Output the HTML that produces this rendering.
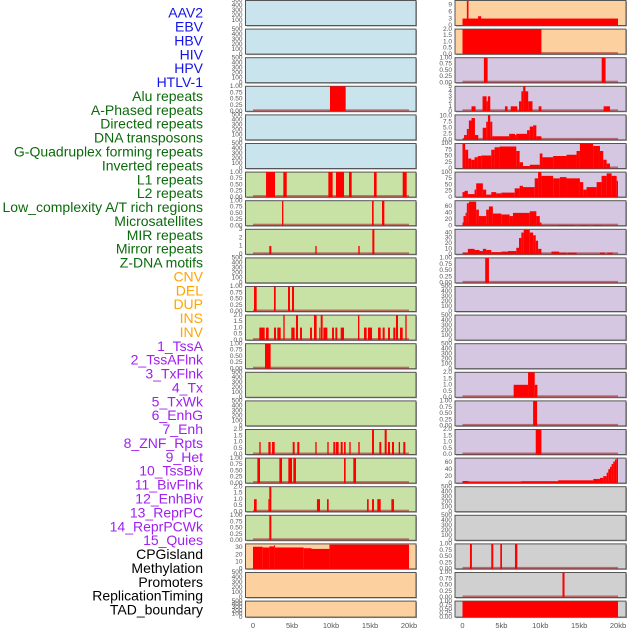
<!DOCTYPE html>
<html><head><meta charset="utf-8"><style>
html,body{margin:0;padding:0;background:#fff;}
svg{display:block;font-family:"Liberation Sans",sans-serif;}
</style></head><body>
<svg id="chart" width="630" height="630" viewBox="0 0 630 630"></svg>
<script>
const labels = ["AAV2","EBV","HBV","HIV","HPV","HTLV-1","Alu repeats","A-Phased repeats","Directed repeats","DNA transposons","G-Quadruplex forming repeats","Inverted repeats","L1 repeats","L2 repeats","Low_complexity A/T rich regions","Microsatellites","MIR repeats","Mirror repeats","Z-DNA motifs","CNV","DEL","DUP","INS","INV","1_TssA","2_TssAFlnk","3_TxFlnk","4_Tx","5_TxWk","6_EnhG","7_Enh","8_ZNF_Rpts","9_Het","10_TssBiv","11_BivFlnk","12_EnhBiv","13_ReprPC","14_ReprPCWk","15_Quies","CPGisland","Methylation","Promoters","ReplicationTiming","TAD_boundary"];
const labelGroups = ["virus","virus","virus","virus","virus","virus","rep","rep","rep","rep","rep","rep","rep","rep","rep","rep","rep","rep","rep","sv","sv","sv","sv","sv","hmm","hmm","hmm","hmm","hmm","hmm","hmm","hmm","hmm","hmm","hmm","hmm","hmm","hmm","hmm","oth","oth","oth","oth","oth"];
const xTicks = [0,5,10,15,20];
const xTickLabels = ["0","5kb","10kb","15kb","20kb"];

const segHIV = [[9.87,11.88,1]];
const segAlu = [[1.67,2.82,1],[3.89,4.32,1],[9.66,10.21,1],[10.64,11.67,1],[12.31,12.65,1],[15.51,15.85,1],[19.19,19.7,1]];
const segAPhased = [[3.72,3.89,1],[15.26,15.47,1],[16.54,16.84,1]];
const segDirected = [[2.09,2.35,1],[7.99,8.16,1],[13.5,13.68,1],[15.3,15.56,3]];
const segGQuad = [[0.13,0.47,1],[2.69,2.91,1],[4.49,4.74,1],[5.0,5.26,1]];
const segInverted = [[0.81,1.5,1],[1.67,2.01,1],[2.69,2.95,1],[3.12,3.55,1],[3.89,4.06,2],[4.91,5.34,1],[5.51,5.77,2],[6.03,6.28,1],[7.31,7.56,1],[7.82,8.16,2],[8.5,8.59,1],[8.68,8.93,2],[9.02,9.53,1],[10.13,10.38,1],[10.56,10.81,1],[11.24,11.67,1],[13.46,13.63,2],[14.23,14.57,1],[14.74,15.26,1],[16.03,16.37,1],[16.62,16.88,1],[17.31,17.56,1],[17.99,18.25,1],[18.33,18.59,2],[18.85,19.19,1],[19.53,19.7,2]];
const segL1 = [[1.54,2.26,1]];
const segMicro = [[0.81,0.98,1],[1.97,2.26,1],[2.44,2.78,1],[5.09,5.34,1],[5.68,5.94,1],[7.99,8.16,1],[9.53,9.7,1],[10.3,10.56,1],[10.64,10.98,1],[11.24,11.5,1],[11.67,11.88,1],[12.35,12.52,1],[13.5,13.68,1],[15.26,15.51,2],[16.2,16.45,1],[16.88,17.14,2],[17.31,17.56,1],[17.82,18.08,1],[18.68,18.85,1],[19.27,19.53,1]];
const segMIR = [[0.56,0.9,1],[3.38,3.72,1],[4.53,5.0,1],[5.17,5.51,1],[11.67,11.88,1],[12.86,13.21,1]];
const segMirror = [[0.13,0.47,1],[1.97,2.05,1],[2.09,2.35,2],[8.2,8.59,1],[9.49,9.7,1],[14.62,14.83,1],[15.26,15.51,1],[15.94,16.37,1],[17.74,18.08,1]];
const segZDNA = [[2.09,2.35,1]];
const segCNV = [[0,1.24,31],[1.24,2.1,30],[2.1,2.7,31.5],[2.7,2.8,33],[2.8,6.5,30],[6.5,7.5,29],[7.5,9.8,28],[9.8,20,34]];
const segINS = [[0,20,3],[0.56,0.77,10.6],[2.0,2.4,4]];
const segINV = [[0,10.15,2]];
const segTssA = [[2.75,3.23,1],[17.9,18.4,1]];
const segTssAFlnk = [[1.16,1.68,1],[2.58,3.1,3],[3.1,3.27,2],[3.27,3.57,3],[5.46,5.8,1],[6.2,7.05,1],[7.27,7.57,2],[7.57,7.8,4],[7.8,8.1,5],[8.1,8.45,4],[8.45,9.0,2],[9.8,10.15,1],[18.15,18.97,1]];
const segTxFlnk = [[0.05,0.2,0.5],[0.2,0.56,2],[0.56,0.82,4.5],[0.82,1.16,8],[1.16,1.6,9],[1.6,2.03,2],[2.6,3.05,5],[3.05,3.27,7.5],[3.27,3.57,10.2],[3.57,3.83,7.5],[3.83,6.0,1.5],[6.0,6.75,2.5],[6.75,6.92,2],[6.92,8.3,2.5],[8.3,8.65,4],[8.65,9.08,5.5],[9.08,9.5,6],[9.5,10.15,1.5]];
const segTx = [[0,0.34,100],[0.34,0.73,75],[0.73,1.12,40],[1.12,1.55,35],[1.55,1.98,45],[1.98,2.41,50],[2.41,3.7,52],[3.7,4.13,75],[4.13,4.77,85],[4.77,6.92,88],[6.92,7.35,70],[7.35,7.78,25],[7.78,8.65,10],[8.65,9.94,15],[9.94,10.28,60],[10.28,11.66,45],[11.66,13.38,50],[13.38,14.67,55],[14.67,15.1,70],[15.1,16.8,100],[16.8,17.68,90],[17.68,18.1,70],[18.1,18.54,35],[18.54,18.97,20]];
const segTxWk = [[0,0.26,20],[0.26,0.69,25],[0.69,1.55,12],[1.55,1.76,30],[1.76,2.62,55],[2.62,3.05,30],[3.05,3.7,10],[3.7,4.34,20],[4.34,4.99,15],[4.99,6.71,18],[6.71,7.35,35],[7.35,7.78,45],[7.78,9.29,40],[9.29,9.72,75],[9.72,10.15,100],[10.15,11.66,85],[11.66,12.52,75],[12.52,13.38,80],[13.38,15.1,75],[15.1,15.53,60],[15.53,15.96,30],[15.96,17.25,40],[17.25,17.89,60],[17.89,18.54,85],[18.54,19.18,95],[19.18,19.83,85],[19.83,20,65]];
const segEnhG = [[0,0.13,10],[0.13,0.39,30],[0.39,0.56,40],[0.56,0.82,70],[0.82,1.76,75],[1.76,2.11,50],[2.11,3.05,30],[3.05,3.4,50],[3.4,3.91,60],[3.91,4.99,38],[4.99,6.06,35],[6.06,6.49,30],[6.49,8.65,40],[8.65,9.5,45],[9.5,9.94,30],[9.94,10.15,10],[12.3,14.45,2],[15.1,16.17,2],[16.82,17.89,2]];
const segEnh = [[0.04,0.69,3],[0.69,1.55,10],[1.55,2.19,8],[2.19,2.62,6],[2.62,3.05,10],[3.05,3.7,8],[3.7,4.99,4],[4.99,5.85,5],[5.85,6.92,6],[6.92,7.27,12],[7.27,7.57,30],[7.57,7.87,40],[7.87,8.65,45],[8.65,9.08,40],[9.08,9.42,35],[9.42,9.72,25],[9.72,10.15,10],[11.44,12.43,5],[12.43,13.38,3],[13.5,14.67,3],[17.68,18.32,3],[18.62,19.31,3]];
const segZNF = [[2.92,3.4,1]];
const segEnhBiv = [[6.58,8.43,1],[8.43,9.29,2],[9.29,9.63,1]];
const segReprPC = [[9.08,9.59,1]];
const segReprPCWk = [[9.42,10.15,2]];
const segQuies = [[0,0.77,6],[0.77,7.57,3],[7.57,12.3,5],[12.3,16.82,8],[16.82,17.68,12],[17.68,18.1,15],[18.1,18.54,20],[18.54,18.75,30],[18.75,18.97,40],[18.97,19.18,47],[19.18,19.4,55],[19.4,19.61,62],[19.61,19.83,68],[19.83,20,72]];
const segPromoters = [[0.96,1.21,1],[3.7,3.96,1],[4.86,5.08,1],[6.75,7.05,1]];
const segRepTiming = [[12.86,13.12,1]];
const segTAD = [[0,20,1]];
const E = [];

const panelSegs = [E,E,E,segHIV,E,E,segAlu,segAPhased,segDirected,E,segGQuad,segInverted,segL1,E,E,segMicro,segMIR,segMirror,segZDNA,segCNV,E,E,
 segINS,segINV,segTssA,segTssAFlnk,segTxFlnk,segTx,segTxWk,segEnhG,segEnh,segZNF,E,E,E,segEnhBiv,segReprPC,segReprPCWk,segQuies,E,E,segPromoters,segRepTiming,segTAD];
const panelYMax = [500,500,500,1,500,500,1,1,3,500,1,2,1,500,500,2,1,2,1,35,500,500,
 10.8,2,1,5,10.3,100,100,78,46,1,500,500,500,2,1,2,72,500,500,1,1,1];
const T01 = ["0.00","0.25","0.50","0.75","1.00"];
const T02 = ["0.0","0.5","1.0","1.5","2.0"];
const T500 = ["0","100","200","300","400","500"];
const T100 = ["0","25","50","75","100"];
const panelTicks = [T500,T500,T500,T01,T500,T500,T01,T01,["0","1","2","3"],T500,T01,T02,T01,T500,T500,T02,T01,T02,T01,["0","10","20","30"],T500,T500,
 ["0","3","6","9"],T02,T01,["0","1","2","3","4","5"],["0.0","2.5","5.0","7.5","10.0"],T100,T100,["0","20","40","60"],["0","10","20","30","40"],T01,T500,T500,T500,T02,T01,T02,["0","20","40","60"],T500,T500,T01,T01,T01];

const bgColors = {virus:"#c9e4ec",rep:"#c8e1a5",sv:"#fdd09f",hmm:"#d5c6e2",oth:"#d0d0d0"};
const textColors = {virus:"#1414e6",rep:"#0b6b0b",sv:"#ffa500",hmm:"#a020f0",oth:"#000"};
const NS = "http://www.w3.org/2000/svg";
const svg = document.getElementById("chart");
function mk(tag, attrs, parent){const e=document.createElementNS(NS,tag);for(const k in attrs)e.setAttribute(k,attrs[k]);(parent||svg).appendChild(e);return e;}

const cols = [{left:245.5,right:416,x0:253,x1:409},{left:455,right:626,x0:462.5,x1:618}];
function xScale(c,kb){return cols[c].x0+(cols[c].x1-cols[c].x0)*kb/20;}

// labels
labels.forEach((t,i)=>{
  const el = mk("text",{x:203,y:14+i*13.88,"text-anchor":"end","dominant-baseline":"middle","font-size":"14",fill:textColors[labelGroups[i]]});
  el.textContent=t;
  
  
});

panelSegs.forEach((segs,i)=>{
  const c = i<22?0:1, r=i%22;
  const top = r*28.6+0.5, h = (r===21)?16:25;
  const bot = top+h;
  const col = cols[c];
  const g = mk("g",{});
  
  
  mk("rect",{x:col.left+1,y:top+1,width:col.right-col.left,height:h,fill:"#9a9a9a"},g);
  mk("rect",{x:col.left,y:top,width:col.right-col.left,height:h,fill:bgColors[labelGroups[i]],stroke:"#555","stroke-width":1},g);
  const ymax = panelYMax[i];
  const yS = v=>bot-(bot-top)*v/ymax;
  panelTicks[i].forEach(t=>{
    const tx = mk("text",{x:col.left-3,y:yS(parseFloat(t)),"text-anchor":"end","dominant-baseline":"middle","font-size":"6.5",fill:"#555"},g);
    tx.textContent=t;
    
    
  });
  if(segs.length){
    const bl = mk("rect",{x:xScale(c,0),y:bot-2,width:xScale(c,20)-xScale(c,0),height:2,fill:"rgba(170,40,40,0.6)"},g);
    
    
    segs.forEach(s=>{
      const x1=xScale(c,s[0]), x2=xScale(c,s[1]);
      const b = mk("rect",{x:x1,y:yS(Math.min(s[2],ymax)),width:Math.max(x2-x1,1),height:bot-yS(Math.min(s[2],ymax)),fill:"#ff0000"},g);
      
      
    });
  }
});

cols.forEach((col,c)=>{
  xTicks.forEach((v,k)=>{
    const t = mk("text",{x:xScale(c,v),y:628,"text-anchor":"middle","font-size":"7.5",fill:"#555"});
    t.textContent = xTickLabels[k];
    
    
  });
});
</script>
</body></html>
